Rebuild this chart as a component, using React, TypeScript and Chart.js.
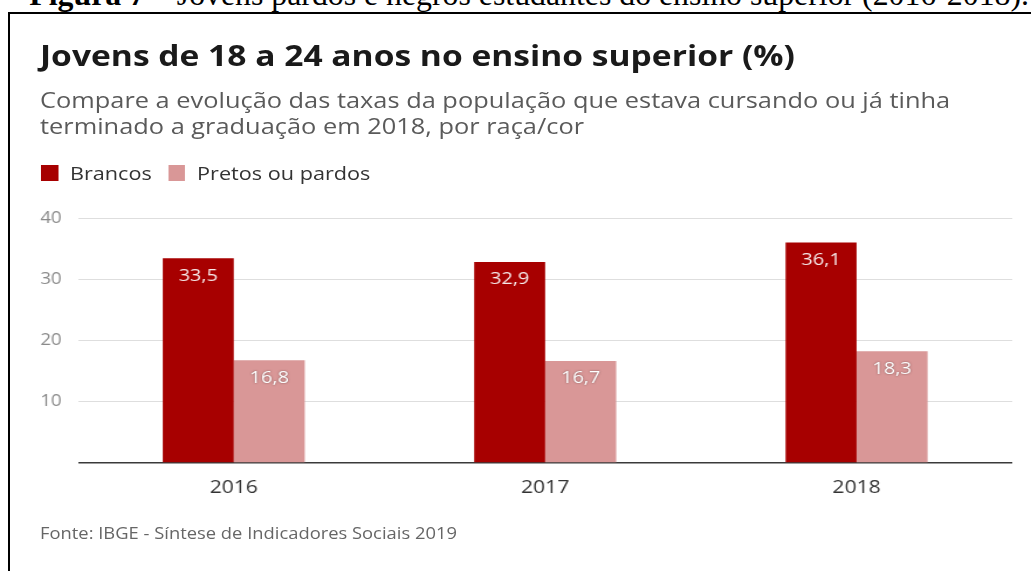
import React, { useEffect, useRef } from "react";
import { Chart, registerables } from "chart.js";

Chart.register(...registerables);

// Data
const years = ["2016", "2017", "2018"];
const brancos = [33.5, 32.9, 36.1];
const pretosOuPardos = [16.8, 16.7, 18.3];
const seriesNames = ["Brancos", "Pretos ou pardos"];
const seriesColors = ["#a70000", "#d99797"];
const yMax = 40;
const yStep = 10;

const PAGE_W = 1031;
const PAGE_H = 571;
// the graphic is laid out on a narrower board and widened horizontally
const INNER_W = 881;
const STRETCH = PAGE_W / INNER_W;

const formatValue = (v: number) => v.toFixed(1).replace(".", ",");

const valueLabels = {
  id: "valueLabels",
  afterDatasetsDraw(chart: any) {
    const ctx = chart.ctx;
    chart.data.datasets.forEach((ds: any, di: number) => {
      const meta = chart.getDatasetMeta(di);
      meta.data.forEach((bar: any, i: number) => {
        ctx.save();
        ctx.font = "17px 'Open Sans'";
        ctx.textAlign = "center";
        ctx.textBaseline = "middle";
        ctx.fillStyle = di === 0 ? "#f6eaea" : "#ffffff";
        if (di === 1) {
          ctx.shadowColor = "rgba(90,60,60,0.75)";
          ctx.shadowBlur = 2;
        }
        ctx.fillText(formatValue(ds.data[i]), bar.x, bar.y + 17.5);
        ctx.restore();
      });
    });
  },
};

function BarChart() {
  const ref = useRef<HTMLCanvasElement | null>(null);
  useEffect(() => {
    if (!ref.current) return;
    const chart = new Chart(ref.current, {
      type: "bar",
      data: {
        labels: years,
        datasets: [
          {
            label: seriesNames[0],
            data: brancos,
            backgroundColor: seriesColors[0],
            categoryPercentage: 0.456,
            barPercentage: 1,
          },
          {
            label: seriesNames[1],
            data: pretosOuPardos,
            backgroundColor: seriesColors[1],
            categoryPercentage: 0.456,
            barPercentage: 1,
          },
        ],
      },
      options: {
        responsive: false,
        animation: false,
        devicePixelRatio: 1,
        layout: { padding: { left: 0, right: 16, top: 20, bottom: 0 } },
        plugins: {
          legend: { display: false },
          tooltip: { enabled: false },
        },
        scales: {
          x: {
            grid: { display: false, drawTicks: false },
            border: { display: false },
            ticks: {
              color: "#333333",
              font: { family: "'Open Sans'", size: 18 },
              padding: 14,
            },
            afterFit: (s: any) => {
              s.height = 42;
            },
          },
          y: {
            min: 0,
            max: yMax,
            grid: {
              drawTicks: false,
              color: (c: any) => (c.tick && c.tick.value === 0 ? "#3a3a3a" : "#dedede"),
              lineWidth: (c: any) => (c.tick && c.tick.value === 0 ? 1.5 : 1),
            },
            border: { display: false },
            ticks: {
              stepSize: yStep,
              color: "#8a8a8a",
              font: { family: "'Open Sans'", size: 16 },
              padding: 14,
              callback: (v: any) => (v === 0 ? "" : String(v)),
            },
            afterFit: (s: any) => {
              s.width = 66.7;
            },
          },
        },
      },
      plugins: [valueLabels],
    });
    return () => chart.destroy();
  }, []);
  return (
    <canvas
      ref={ref}
      width={INNER_W}
      height={310}
      style={{ position: "absolute", left: 0, top: 195, width: INNER_W, height: 310 }}
    />
  );
}

export default function App() {
  const sans = "'Open Sans', sans-serif";
  return (
    <div
      style={{
        position: "fixed",
        left: 0,
        top: 0,
        width: PAGE_W,
        height: PAGE_H,
        overflow: "hidden",
        background: "#ffffff",
      }}
    >
      <div
        style={{
          position: "absolute",
          right: 2,
          top: -21,
          fontFamily: "'Liberation Serif', 'Times New Roman', serif",
          fontSize: 31.8,
          lineHeight: "32px",
          whiteSpace: "nowrap",
          color: "#000",
        }}
      >
        <b>Figura 7 –</b> Jovens pardos e negros estudantes do ensino superior (2016-2018).
      </div>
      <div
        style={{
          position: "absolute",
          left: 8,
          top: 12,
          width: 1060,
          height: 620,
          border: "2px solid #000",
          boxSizing: "border-box",
        }}
      />
      <div
        style={{
          position: "absolute",
          left: 0,
          top: 0,
          width: INNER_W,
          height: PAGE_H,
          transform: `scaleX(${STRETCH})`,
          transformOrigin: "0 0",
        }}
      >
        <div
          style={{
            position: "absolute",
            left: 34.2,
            top: 41,
            fontFamily: sans,
            fontWeight: 700,
            fontSize: 28.7,
            lineHeight: "28px",
            color: "#1a1a1a",
            whiteSpace: "nowrap",
          }}
        >
          Jovens de 18 a 24 anos no ensino superior (%)
        </div>
        <div
          style={{
            position: "absolute",
            left: 34.2,
            top: 87,
            fontFamily: sans,
            fontSize: 21.7,
            lineHeight: "26px",
            color: "#5a5a5a",
            whiteSpace: "nowrap",
          }}
        >
          <div>Compare a evolução das taxas da população que estava cursando ou já tinha</div>
          <div>terminado a graduação em 2018, por raça/cor</div>
        </div>
        {seriesNames.map((name, i) => (
          <React.Fragment key={name}>
            <div
              style={{
                position: "absolute",
                left: i === 0 ? 35 : 143.6,
                top: 165,
                width: 14.5,
                height: 16,
                background: seriesColors[i],
              }}
            />
            <div
              style={{
                position: "absolute",
                left: i === 0 ? 59.8 : 168.4,
                top: 161,
                fontFamily: sans,
                fontSize: 18.5,
                lineHeight: "24px",
                color: "#333333",
                whiteSpace: "nowrap",
              }}
            >
              {name}
            </div>
          </React.Fragment>
        ))}
        <BarChart />
        <div
          style={{
            position: "absolute",
            left: 34.2,
            top: 522,
            fontFamily: sans,
            fontSize: 15.7,
            lineHeight: "22px",
            color: "#666666",
            whiteSpace: "nowrap",
          }}
        >
          Fonte: IBGE - Síntese de Indicadores Sociais 2019
        </div>
      </div>
    </div>
  );
}
